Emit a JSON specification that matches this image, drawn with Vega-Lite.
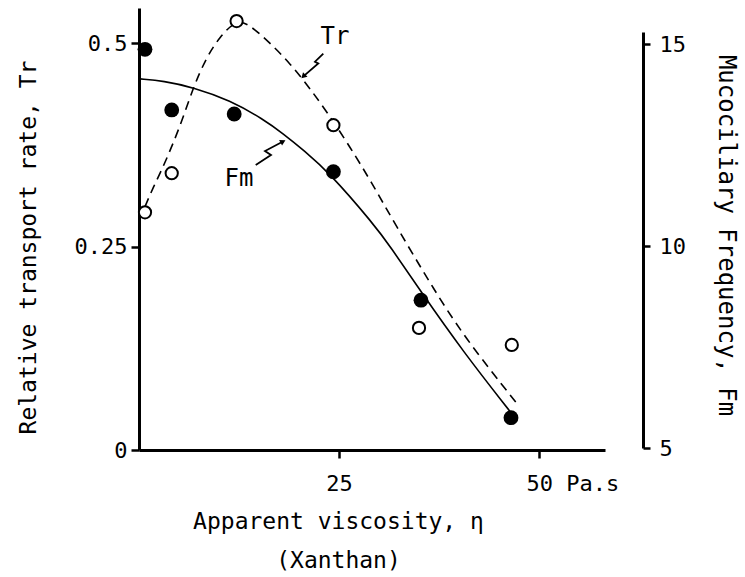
{
  "$schema": "https://vega.github.io/schema/vega-lite/v6.json",
  "width": 504,
  "height": 442,
  "autosize": {"type": "none"},
  "padding": {"left": 139, "top": 8, "right": 102, "bottom": 127},
  "background": "white",
  "config": {
    "view": {"stroke": null},
    "axis": {
      "labelFont": "DejaVu Sans Mono",
      "titleFont": "DejaVu Sans Mono",
      "labelFontSize": 22,
      "titleFontSize": 23,
      "titleFontWeight": "normal",
      "labelColor": "black",
      "titleColor": "black",
      "domainColor": "black",
      "tickColor": "black",
      "domainWidth": 3,
      "tickWidth": 2.5,
      "grid": false
    }
  },
  "datasets": {
    "tr": [
      {"eta": 0.75, "tr": 0.292},
      {"eta": 4.09, "tr": 0.340},
      {"eta": 12.2, "tr": 0.527},
      {"eta": 24.3, "tr": 0.399},
      {"eta": 35.0, "tr": 0.150},
      {"eta": 46.6, "tr": 0.129}
    ],
    "fm": [
      {"eta": 0.75, "fm": 14.87},
      {"eta": 4.09, "fm": 13.37},
      {"eta": 11.9, "fm": 13.27},
      {"eta": 24.3, "fm": 11.84},
      {"eta": 35.25, "fm": 8.66},
      {"eta": 46.5, "fm": 5.75}
    ],
    "trCurve": [
      {"eta": 0.75, "tr": 0.299},
      {"eta": 1.79, "tr": 0.323},
      {"eta": 3.04, "tr": 0.348},
      {"eta": 5.13, "tr": 0.397},
      {"eta": 6.79, "tr": 0.446},
      {"eta": 8.46, "tr": 0.483},
      {"eta": 10.13, "tr": 0.508},
      {"eta": 12.21, "tr": 0.529},
      {"eta": 13.88, "tr": 0.522},
      {"eta": 16.38, "tr": 0.500},
      {"eta": 18.88, "tr": 0.475},
      {"eta": 21.38, "tr": 0.444},
      {"eta": 23.88, "tr": 0.410},
      {"eta": 26.38, "tr": 0.372},
      {"eta": 28.88, "tr": 0.332},
      {"eta": 32.21, "tr": 0.274},
      {"eta": 36.38, "tr": 0.205},
      {"eta": 40.54, "tr": 0.140},
      {"eta": 47.41, "tr": 0.055}
    ],
    "fmCurve": [
      {"eta": 0.13, "fm": 14.14},
      {"eta": 3.04, "fm": 14.09},
      {"eta": 6.79, "fm": 13.93},
      {"eta": 11.38, "fm": 13.61},
      {"eta": 15.54, "fm": 13.14},
      {"eta": 18.04, "fm": 12.78},
      {"eta": 20.54, "fm": 12.38},
      {"eta": 23.88, "fm": 11.80},
      {"eta": 29.3, "fm": 10.55},
      {"eta": 31.38, "fm": 10.0},
      {"eta": 35.13, "fm": 8.9},
      {"eta": 40.54, "fm": 7.38},
      {"eta": 46.4, "fm": 5.90}
    ],
    "leaders": [
      {"g": "tr", "o": 1, "eta": 23.04, "tr": 0.487},
      {"g": "tr", "o": 2, "eta": 22.0, "tr": 0.477},
      {"g": "tr", "o": 3, "eta": 22.41, "tr": 0.475},
      {"g": "tr", "o": 4, "eta": 20.54, "tr": 0.459},
      {"g": "fm", "o": 1, "eta": 14.59, "tr": 0.350},
      {"g": "fm", "o": 2, "eta": 16.5, "tr": 0.3624},
      {"g": "fm", "o": 3, "eta": 15.75, "tr": 0.3673},
      {"g": "fm", "o": 4, "eta": 18.0, "tr": 0.379}
    ],
    "labels": [
      {"eta": 24.5, "tr": 0.507, "label": "Tr"},
      {"eta": 12.5, "tr": 0.333, "label": "Fm"}
    ]
  },
  "layer": [
    {
      "encoding": {
        "x": {
          "field": "eta",
          "type": "quantitative",
          "scale": {"domain": [0, 58.25], "range": [0, 466], "nice": false, "zero": false},
          "axis": {
            "values": [25, 50],
            "tickSize": 8,
            "labelPadding": 15,
            "labelExpr": "datum.value == 50 ? '50 Pa.s' : datum.label",
            "labelAlign": {"condition": {"test": "datum.value == 50", "value": "left"}, "value": "center"},
            "labelOffset": {"condition": {"test": "datum.value == 50", "value": -13}, "value": 0},
            "labelOverlap": false,
            "title": ["Apparent viscosity, η", "(Xanthan)"],
            "titlePadding": 16,
            "titleLineHeight": 39,
            "titleX": 199
          }
        },
        "y": {
          "field": "tr",
          "type": "quantitative",
          "scale": {"domain": [0, 0.543], "nice": false, "zero": false},
          "axis": {
            "orient": "left",
            "values": [0, 0.25, 0.5],
            "labelExpr": "'' + datum.value",
            "tickSize": 8,
            "labelPadding": 4,
            "title": "Relative transport rate, Tr",
            "titlePadding": 34,
            "titleY": 239
          }
        }
      },
      "layer": [
        {
          "data": {"name": "trCurve"},
          "mark": {"type": "line", "interpolate": "basis", "color": "black", "strokeWidth": 1.6, "strokeDash": [9, 6]}
        },
        {
          "data": {"name": "tr"},
          "mark": {"type": "circle", "size": 150, "fill": "white", "fillOpacity": 1, "stroke": "black", "strokeWidth": 2, "opacity": 1}
        },
        {
          "data": {"name": "leaders"},
          "mark": {"type": "line", "color": "black", "strokeWidth": 1.8},
          "encoding": {
            "detail": {"field": "g"},
            "order": {"field": "o", "type": "quantitative"}
          }
        },
        {
          "data": {"name": "leaders"},
          "transform": [{"filter": "datum.g == 'tr' && datum.o == 4"}],
          "mark": {"type": "point", "shape": "triangle-up", "filled": true, "color": "black", "opacity": 1, "size": 40, "angle": 225}
        },
        {
          "data": {"name": "leaders"},
          "transform": [{"filter": "datum.g == 'fm' && datum.o == 4"}],
          "mark": {"type": "point", "shape": "triangle-up", "filled": true, "color": "black", "opacity": 1, "size": 40, "angle": 62}
        },
        {
          "data": {"name": "labels"},
          "mark": {"type": "text", "font": "DejaVu Sans Mono", "fontSize": 24, "color": "black", "align": "center", "baseline": "middle"},
          "encoding": {"text": {"field": "label"}}
        }
      ]
    },
    {
      "encoding": {
        "x": {
          "field": "eta",
          "type": "quantitative",
          "scale": {"domain": [0, 58.25], "range": [0, 466], "nice": false, "zero": false}
        },
        "y": {
          "field": "fm",
          "type": "quantitative",
          "scale": {"domain": [5, 15.3], "range": [440, 24], "nice": false, "zero": false},
          "axis": {
            "orient": "right",
            "values": [5, 10, 15],
            "tickSize": 7,
            "labelPadding": 9,
            "title": "Mucociliary Frequency, Fm",
            "titleFontSize": 24,
            "titlePadding": 28,
            "titleY": 227
          }
        }
      },
      "layer": [
        {
          "data": {"name": "fmCurve"},
          "mark": {"type": "line", "interpolate": "basis", "color": "black", "strokeWidth": 1.6}
        },
        {
          "data": {"name": "fm"},
          "mark": {"type": "circle", "size": 220, "color": "black", "opacity": 1}
        }
      ]
    }
  ],
  "resolve": {"scale": {"y": "independent"}, "axis": {"y": "independent"}}
}
